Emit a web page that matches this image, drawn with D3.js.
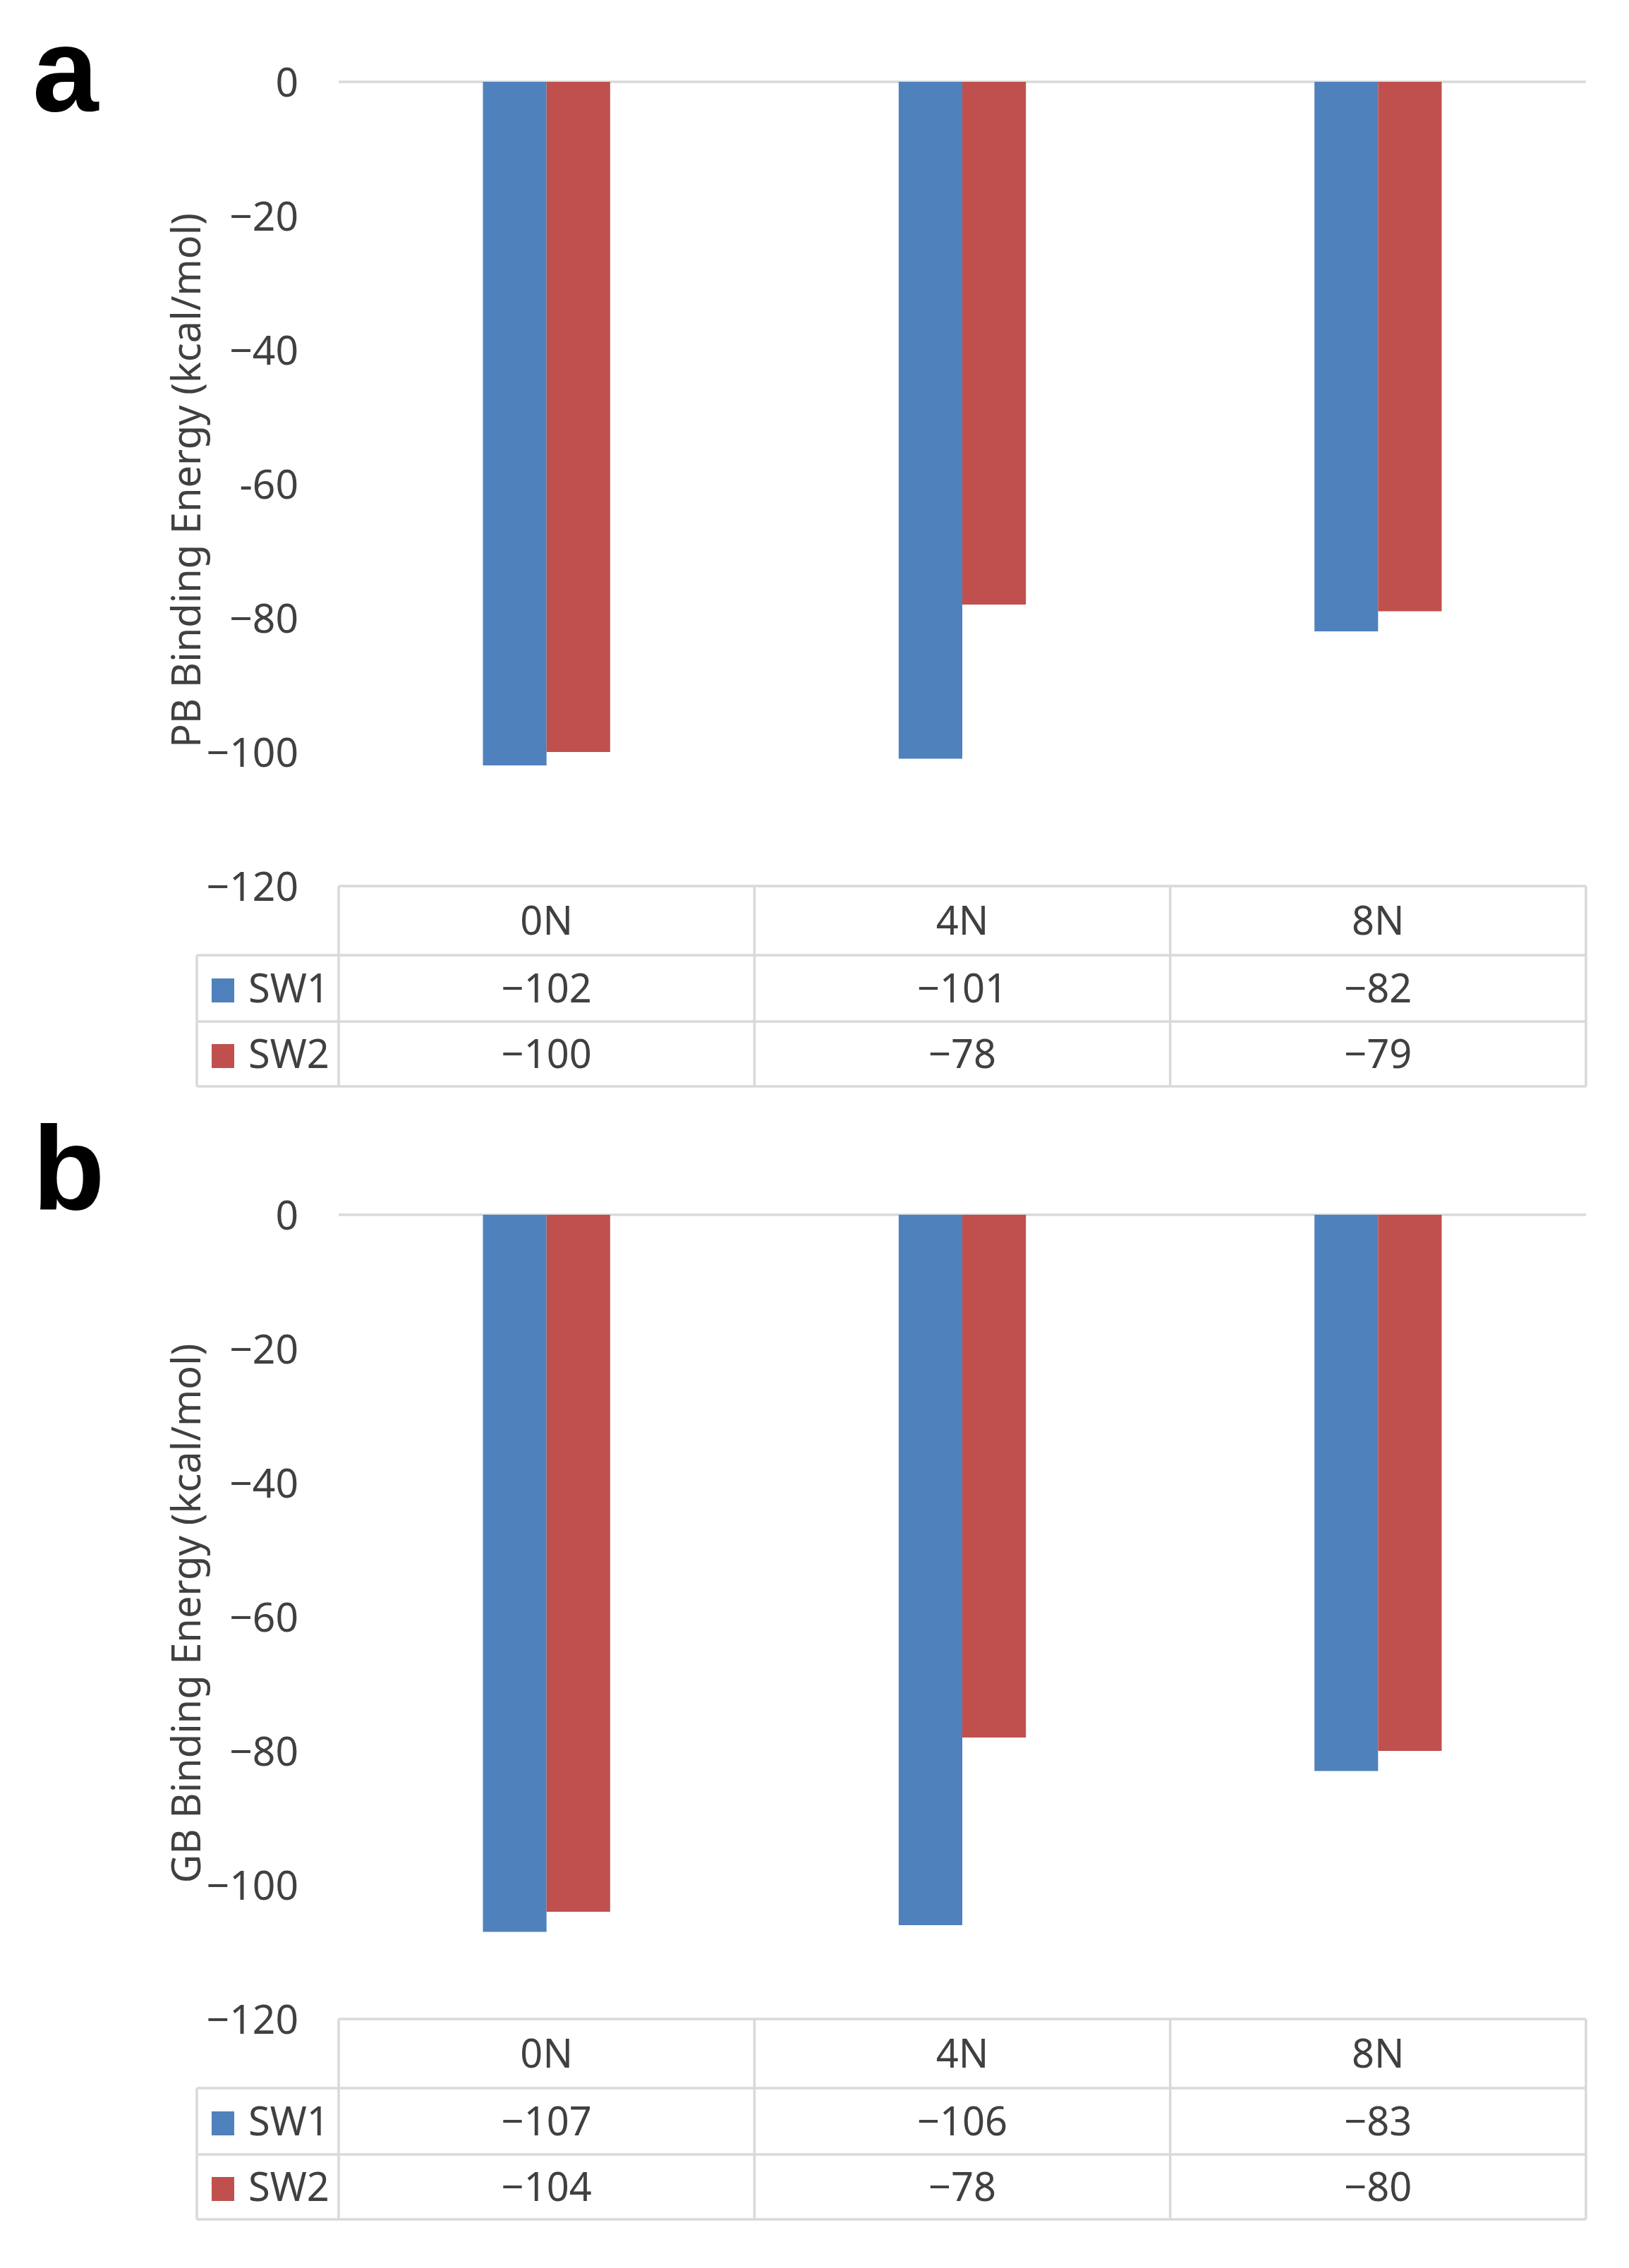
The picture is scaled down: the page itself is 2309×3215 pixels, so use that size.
<!DOCTYPE html>
<html>
<head>
<meta charset="utf-8">
<script src="https://cdn.jsdelivr.net/npm/d3@7"></script>
<style>
  body { margin: 0; background: #fff; }
  svg { display: block; }
  text { font-family: "Noto Sans", "Open Sans", sans-serif; fill: #404040; }
</style>
</head>
<body>
<div id="chart"></div>
<script>
// categories and series
var categories = ["0N", "4N", "8N"];
var series = ["SW1", "SW2"];
var colors = ["#4f81bd", "#c0504d"];

// panel a : PB
var pbSW1 = [-102, -101, -82];
var pbSW2 = [-100, -78, -79];
// panel b : GB
var gbSW1 = [-107, -106, -83];
var gbSW2 = [-104, -78, -80];

var tickValues = [0, -20, -40, -60, -80, -100, -120];
var tickLabelsA = ["0", "\u221220", "\u221240", "-60", "\u221280", "\u2212100", "\u2212120"];
var tickLabelsB = ["0", "\u221220", "\u221240", "\u221260", "\u221280", "\u2212100", "\u2212120"];

var panels = [
    { letter: "a", title: "PB Binding Energy (kcal/mol)", values: [pbSW1, pbSW2], labels: tickLabelsA, dy: 0, letterY: 157 },
    { letter: "b", title: "GB Binding Energy (kcal/mol)", values: [gbSW1, gbSW2], labels: tickLabelsB, dy: 1606, letterY: 1715 }
];

var W = 2309, H = 3215;
var svg = d3.select("#chart").append("svg")
    .attr("width", W).attr("height", H);

svg.append("rect").attr("width", W).attr("height", H).attr("fill", "#fff");

// plot area (panel coordinates)
var left = 480, right = 2248, top0 = 116, bottom0 = 1256;
var legendLeft = 279;
var rowY = [1256, 1354, 1448, 1540]; // header, SW1, SW2, end
var lineCol = "#d9d9d9";

var x0 = d3.scaleBand().domain(categories).range([left, right]).paddingInner(0).paddingOuter(0);
var groupW = x0.bandwidth() * 0.306;
var x1 = d3.scaleBand().domain(series).range([0, groupW]);
var y = d3.scaleLinear().domain([-120, 0]).range([bottom0, top0]);

function drawPanel(p) {
    // panel letter
    svg.append("text")
        .attr("x", 46).attr("y", p.letterY)
        .text(p.letter)
        .style("font-family", "'Liberation Sans', Arial, sans-serif")
        .style("font-weight", "bold")
        .style("font-size", "168px")
        .style("fill", "#000");

    var g = svg.append("g").attr("transform", "translate(0," + p.dy + ")");

    // y axis labels
    var yAxis = d3.axisLeft(y)
        .tickValues(tickValues)
        .tickSize(0)
        .tickPadding(0)
        .tickFormat(function (d) { return p.labels[tickValues.indexOf(d)]; });
    var ax = g.append("g")
        .attr("transform", "translate(423,0)")
        .call(yAxis);
    ax.select(".domain").remove();
    ax.selectAll("text")
        .style("font-family", "'Noto Sans', sans-serif")
        .style("font-size", "57px")
        .attr("fill", "#404040")
        .attr("dy", "0.36em");

    // zero line
    g.append("line")
        .attr("x1", left).attr("x2", right)
        .attr("y1", y(0)).attr("y2", y(0))
        .attr("stroke", lineCol).attr("stroke-width", 3.5);

    // bars
    var groups = g.selectAll(".grp")
        .data(categories)
        .enter().append("g")
        .attr("transform", function (d) { return "translate(" + (x0(d) + x0.bandwidth() / 2 - groupW / 2) + ",0)"; });

    groups.selectAll("rect")
        .data(function (d, ci) { return series.map(function (s, si) { return { s: s, si: si, v: p.values[si][ci] }; }); })
        .enter().append("rect")
        .attr("x", function (d) { return x1(d.s); })
        .attr("width", x1.bandwidth())
        .attr("y", y(0))
        .attr("height", function (d) { return y(d.v) - y(0); })
        .attr("fill", function (d) { return colors[d.si]; });

    // y title
    g.append("text")
        .attr("transform", "translate(262,681) rotate(-90)")
        .attr("text-anchor", "middle")
        .attr("dominant-baseline", "central")
        .style("font-size", "56px")
        .text(p.title);

    // data table
    var t = g.append("g");
    t.append("line").attr("x1", left).attr("x2", right).attr("y1", rowY[0]).attr("y2", rowY[0]);
    [1, 2, 3].forEach(function (k) {
        t.append("line").attr("x1", legendLeft).attr("x2", right).attr("y1", rowY[k]).attr("y2", rowY[k]);
    });
    t.append("line").attr("x1", legendLeft).attr("x2", legendLeft).attr("y1", rowY[1]).attr("y2", rowY[3]);
    categories.forEach(function (c) {
        t.append("line").attr("x1", x0(c)).attr("x2", x0(c)).attr("y1", rowY[0]).attr("y2", rowY[3]);
    });
    t.append("line").attr("x1", right).attr("x2", right).attr("y1", rowY[0]).attr("y2", rowY[3]);
    t.selectAll("line").attr("stroke", lineCol).attr("stroke-width", 3.5);

    // header
    t.selectAll(".hdr")
        .data(categories)
        .enter().append("text")
        .attr("x", function (d) { return x0(d) + x0.bandwidth() / 2; })
        .attr("y", (rowY[0] + rowY[1]) / 2)
        .attr("dy", "0.36em")
        .attr("text-anchor", "middle")
        .style("font-size", "56px")
        .text(function (d) { return d; });

    series.forEach(function (s, si) {
        var cy = (rowY[si + 1] + rowY[si + 2]) / 2;
        t.append("rect")
            .attr("x", 300).attr("y", cy - 14)
            .attr("width", 32).attr("height", 34)
            .attr("fill", colors[si]);
        t.append("text")
            .attr("x", 352).attr("y", cy).attr("dy", "0.36em")
            .style("font-size", "56px")
            .text(s);
        t.selectAll(".val" + si)
            .data(p.values[si])
            .enter().append("text")
            .attr("x", function (d, i) { return x0(categories[i]) + x0.bandwidth() / 2; })
            .attr("y", cy).attr("dy", "0.36em")
            .attr("text-anchor", "middle")
            .style("font-size", "56px")
            .text(function (d) { return d3.format("d")(d).replace("-", "\u2212"); });
    });
}

panels.forEach(drawPanel);
</script>
</body>
</html>
